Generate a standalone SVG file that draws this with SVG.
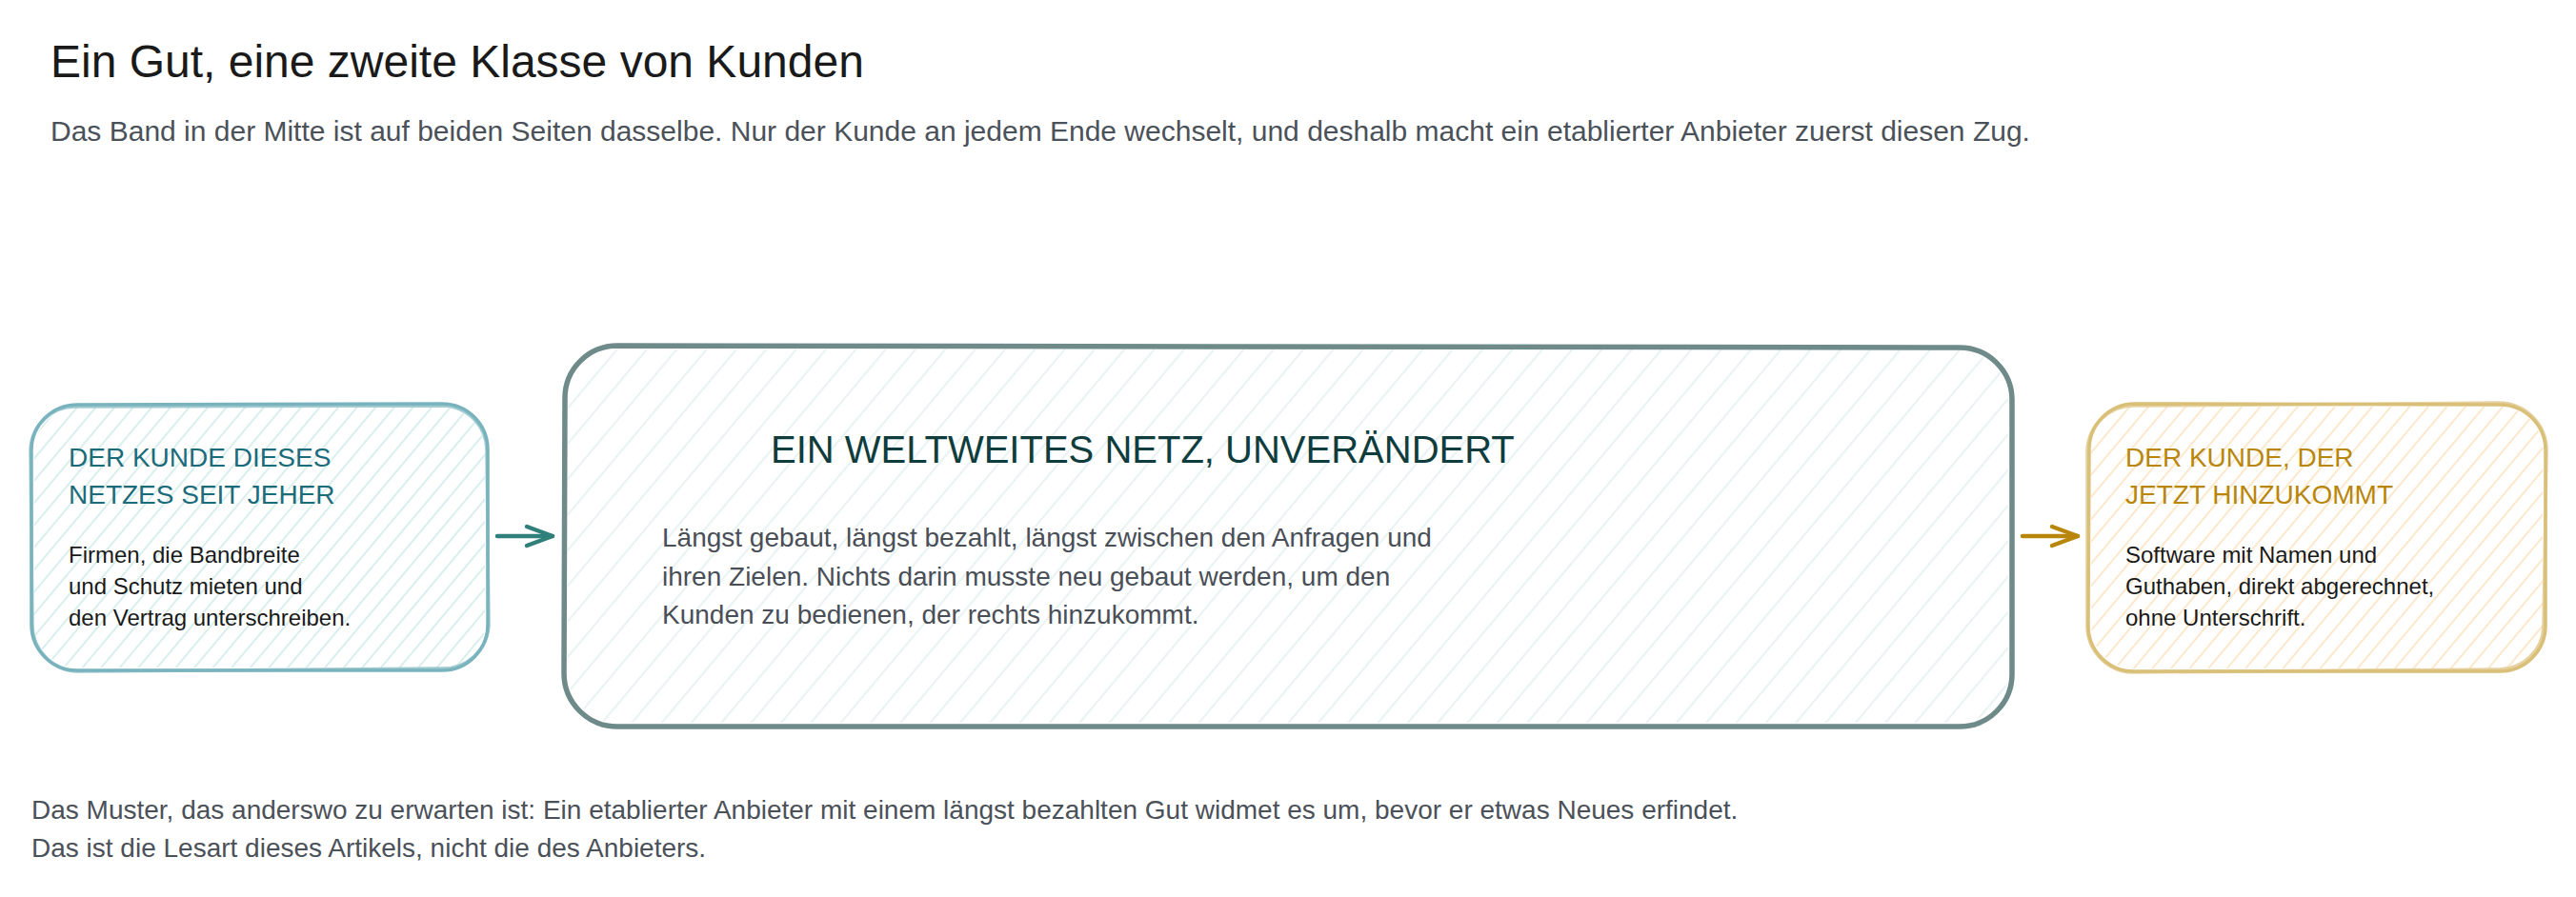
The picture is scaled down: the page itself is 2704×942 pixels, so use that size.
<svg xmlns="http://www.w3.org/2000/svg" width="2704" height="942" viewBox="0 0 2704 942">
<style>
text{font-family:"Liberation Sans",Arial,Helvetica,sans-serif}
.title{font-size:48px;fill:#1a1a1a}
.sub{font-size:30px;fill:#4b5159}
.foot{font-size:28px;fill:#4b5159}
.hl{font-size:28px;fill:#1b6b7b}
.hr{font-size:28px;fill:#b8860b}
.hc{font-size:40px;fill:#0f3d3d}
.bs{font-size:24px;fill:#1a1a1a}
.bc{font-size:28px;fill:#4a4f57}
.edgeL{fill:none;stroke:#79b3bd;stroke-width:3.5;stroke-linecap:round;stroke-linejoin:round}
.edgeR{fill:none;stroke:#dabf78;stroke-width:3.5;stroke-linecap:round;stroke-linejoin:round}
.edgeC{fill:none;stroke:#6e8a89;stroke-width:5.5;stroke-linecap:round;stroke-linejoin:round}
</style>
<defs>
<pattern id="hatchTeal" patternUnits="userSpaceOnUse" width="15" height="15" patternTransform="rotate(40)">
<line x1="7" y1="0" x2="7" y2="15" stroke="#d8efee" stroke-width="2"/>
</pattern>
<pattern id="hatchCenter" patternUnits="userSpaceOnUse" width="24" height="24" patternTransform="rotate(40)">
<line x1="12" y1="0" x2="12" y2="24" stroke="#e9f3f3" stroke-width="2.2"/>
</pattern>
<pattern id="hatchGold" patternUnits="userSpaceOnUse" width="15" height="15" patternTransform="rotate(40)">
<line x1="7" y1="0" x2="7" y2="15" stroke="#fde8cc" stroke-width="2"/>
</pattern>
<marker id="headTeal" markerUnits="userSpaceOnUse" viewBox="-34 -14 40 28" refX="0" refY="0" markerWidth="40" markerHeight="28" orient="auto">
<path d="M-27,-10 L0,0 L-27,10" fill="none" stroke="#2f7f7a" stroke-width="4.5" stroke-linecap="round" stroke-linejoin="round"/>
</marker>
<marker id="headGold" markerUnits="userSpaceOnUse" viewBox="-34 -14 40 28" refX="0" refY="0" markerWidth="40" markerHeight="28" orient="auto">
<path d="M-27,-10 L0,0 L-27,10" fill="none" stroke="#b8860b" stroke-width="4.5" stroke-linecap="round" stroke-linejoin="round"/>
</marker>
</defs>
<rect width="2704" height="942" fill="#ffffff"/>

<text class="title" x="53" y="81">Ein Gut, eine zweite Klasse von Kunden</text>
<text class="sub" x="53" y="148">Das Band in der Mitte ist auf beiden Seiten dasselbe. Nur der Kunde an jedem Ende wechselt, und deshalb macht ein etablierter Anbieter zuerst diesen Zug.</text>

<g id="node-left">
<rect x="36" y="428" width="473" height="273" rx="45" fill="url(#hatchTeal)"/>
<path class="edgeL" d="M81,425 L464,424 A48,48 0 0 1 512,472 L512,656 A48,48 0 0 1 464,704 L81,704 A48,48 0 0 1 33,656 L33,473 A48,48 0 0 1 81,425 Z"/>
<path class="edgeL" d="M80,427 L465,426 A47,47 0 0 1 511,474 L513,657 A48,48 0 0 1 463,702 L82,705 A49,49 0 0 1 34,655 L32,472 A47,47 0 0 1 80,427" stroke-opacity="0.7" stroke-width="2.5"/>
<text class="hl" x="72" y="490">DER KUNDE DIESES</text>
<text class="hl" x="72" y="529">NETZES SEIT JEHER</text>
<text class="bs" x="72" y="591">Firmen, die Bandbreite</text>
<text class="bs" x="72" y="624">und Schutz mieten und</text>
<text class="bs" x="72" y="657">den Vertrag unterschreiben.</text>
</g>

<g id="node-center">
<rect x="596" y="367" width="1512" height="392" rx="52" fill="url(#hatchCenter)"/>
<path class="edgeC" d="M648,363 L2057,365 A55,55 0 0 1 2112,420 L2112,708 A55,55 0 0 1 2057,763 L648,763 A56,56 0 0 1 592,707 L593,418 A55,55 0 0 1 648,363 Z"/>
<text class="hc" x="809" y="486">EIN WELTWEITES NETZ, UNVERÄNDERT</text>
<text class="bc" x="695" y="574">Längst gebaut, längst bezahlt, längst zwischen den Anfragen und</text>
<text class="bc" x="695" y="615">ihren Zielen. Nichts darin musste neu gebaut werden, um den</text>
<text class="bc" x="695" y="655">Kunden zu bedienen, der rechts hinzukommt.</text>
</g>

<g id="node-right">
<rect x="2195" y="427" width="474" height="275" rx="45" fill="url(#hatchGold)"/>
<path class="edgeR" d="M2240,424 L2624,425 A48,48 0 0 1 2672,473 L2672,657 A48,48 0 0 1 2624,705 L2240,705 A48,48 0 0 1 2192,657 L2193,472 A48,48 0 0 1 2240,424 Z"/>
<path class="edgeR" d="M2242,426 L2623,423 A50,50 0 0 1 2673,474 L2670,658 A47,47 0 0 1 2622,703 L2238,706 A49,49 0 0 1 2191,655 L2191,473 A49,49 0 0 1 2242,426" stroke-opacity="0.7" stroke-width="2.5"/>
<text class="hr" x="2231" y="490">DER KUNDE, DER</text>
<text class="hr" x="2231" y="529">JETZT HINZUKOMMT</text>
<text class="bs" x="2231" y="591">Software mit Namen und</text>
<text class="bs" x="2231" y="624">Guthaben, direkt abgerechnet,</text>
<text class="bs" x="2231" y="657">ohne Unterschrift.</text>
</g>

<g id="connectors">
<path d="M522,563 L580,563" fill="none" stroke="#2f7f7a" stroke-width="4.5" stroke-linecap="round" marker-end="url(#headTeal)"/>
<path d="M2123,563 L2181,563" fill="none" stroke="#b8860b" stroke-width="4.5" stroke-linecap="round" marker-end="url(#headGold)"/>
</g>

<text class="foot" x="33" y="860">Das Muster, das anderswo zu erwarten ist: Ein etablierter Anbieter mit einem längst bezahlten Gut widmet es um, bevor er etwas Neues erfindet.</text>
<text class="foot" x="33" y="900">Das ist die Lesart dieses Artikels, nicht die des Anbieters.</text>
</svg>
